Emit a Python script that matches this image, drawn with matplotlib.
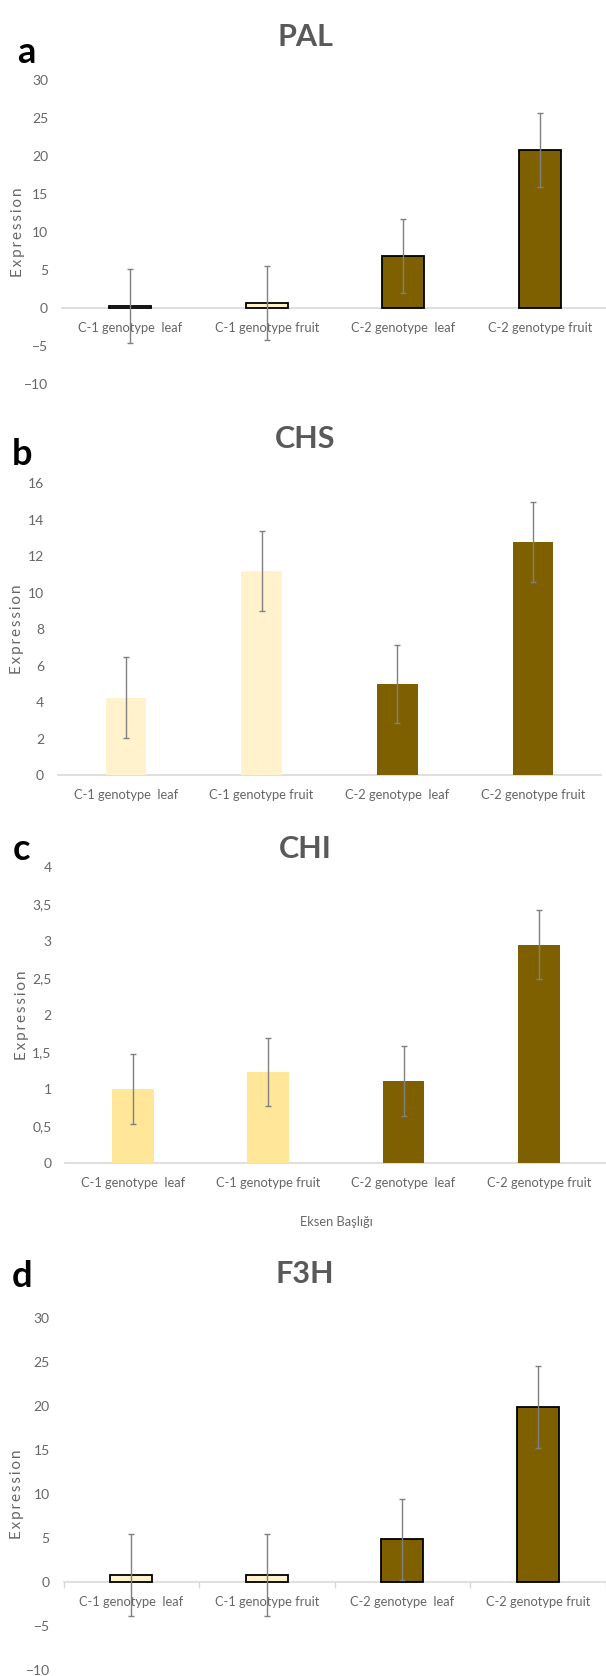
"""
Gene expression bar charts (PAL, CHS, CHI, F3H) in four stacked panels.
"""
import matplotlib
matplotlib.use("Agg")
import matplotlib.pyplot as plt
from matplotlib.ticker import FuncFormatter, FixedLocator

plt.rcParams['font.family'] = ['Lato', 'DejaVu Sans']

categories = ['C-1 genotype  leaf', 'C-1 genotype fruit',
              'C-2 genotype  leaf', 'C-2 genotype fruit']

pal_values = [0.3, 0.7, 6.9, 20.8]
pal_err = [4.9, 4.9, 4.9, 4.8]

chs_values = [4.25, 11.2, 5.0, 12.8]
chs_err = [2.2, 2.2, 2.15, 2.2]

chi_values = [1.0, 1.23, 1.11, 2.95]
chi_err = [0.47, 0.46, 0.47, 0.46]

f3h_values = [0.85, 0.85, 4.9, 19.9]
f3h_err = [4.65, 4.65, 4.6, 4.65]

BROWN = '#7F6000'
CREAM = '#FFF2CC'
YELLOW = '#FFE699'
TEXT_GRAY = '#666666'

W, H = 606, 1676

# Excel spreads the axis title letters out a little
YLABEL = '\u2009'.join('Expression')


def px_axes(fig, left, top, right, bottom):
    """Add axes using pixel coordinates measured from the top-left."""
    return fig.add_axes([left / W, 1 - bottom / H, (right - left) / W, (bottom - top) / H])


def plot_panel(ax, values, errors, colors, edge, ylim, yticks, width=0.31,
               comma=False, xtitle=None, boundary_ticks=False):
    """Draw one Excel-style bar chart with error bars."""
    x = range(len(values))
    ax.bar(x, values, width=width, color=colors,
           edgecolor='black' if edge else 'none', linewidth=1.3 if edge else 0, zorder=2)
    ax.errorbar(x, values, yerr=errors, fmt='none', ecolor='#808080',
                elinewidth=1, capsize=2.2, capthick=1, zorder=3)

    ax.set_xlim(-0.5, 3.5)
    ax.set_ylim(*ylim)
    ax.set_yticks(yticks)
    if comma:
        ax.yaxis.set_major_formatter(FuncFormatter(lambda v, p: f'{v:g}'.replace('.', ',')))
    ax.set_xticks(list(x))
    ax.set_xticklabels(categories)

    for side in ['top', 'right', 'left']:
        ax.spines[side].set_visible(False)
    ax.spines['bottom'].set_position(('data', 0))
    ax.spines['bottom'].set_color('#d9d9d9')
    ax.spines['bottom'].set_linewidth(1.2)
    ax.spines['bottom'].set_zorder(1)

    ax.tick_params(axis='x', length=0, pad=10, labelsize=9.3, labelcolor=TEXT_GRAY)
    ax.tick_params(axis='y', length=0, pad=10, labelsize=10, labelcolor=TEXT_GRAY)
    if boundary_ticks:
        ax.xaxis.set_minor_locator(FixedLocator([-0.5, 0.5, 1.5, 2.5, 3.5]))
        ax.tick_params(axis='x', which='minor', length=4, width=1, color='#d9d9d9', direction='out')

    ax.set_ylabel(YLABEL, fontsize=11, color=TEXT_GRAY)
    if xtitle:
        ax.set_xlabel(xtitle, fontsize=9.3, color=TEXT_GRAY, labelpad=19)


fig = plt.figure(figsize=(W / 100, H / 100), dpi=100)

# panel a - PAL
ax_a = px_axes(fig, 62, 80, 608, 384.4)
plot_panel(ax_a, pal_values, pal_err, [CREAM, CREAM, BROWN, BROWN], True,
           (-10, 30), range(-10, 31, 5))
ax_a.yaxis.set_label_coords((25 - 62) / 546, 0.5)

# panel b - CHS
ax_b = px_axes(fig, 58, 483.3, 601, 775)
plot_panel(ax_b, chs_values, chs_err, [CREAM, CREAM, BROWN, BROWN], False,
           (0, 16), range(0, 17, 2), width=0.30)
ax_b.yaxis.set_label_coords((24 - 58) / 543, 0.5)

# panel c - CHI
ax_c = px_axes(fig, 65.4, 866.7, 606.4, 1163.3)
plot_panel(ax_c, chi_values, chi_err, [YELLOW, YELLOW, BROWN, BROWN], False,
           (0, 4), [i * 0.5 for i in range(9)], comma=True, xtitle='Eksen Başlığı')
ax_c.yaxis.set_label_coords((29 - 65.4) / 541, 0.5)

# panel d - F3H
ax_d = px_axes(fig, 63.7, 1318.3, 605.7, 1670.3)
plot_panel(ax_d, f3h_values, f3h_err, [CREAM, CREAM, BROWN, BROWN], True,
           (-10, 30), range(-10, 31, 5), boundary_ticks=True)
ax_d.yaxis.set_label_coords((24 - 63.7) / 542, 0.5)

# titles and panel letters (positions are text baselines in pixels)
titles = [('PAL', 46.5), ('CHS', 448), ('CHI', 858), ('F3H', 1283)]
for name, ypx in titles:
    fig.text(305 / W, 1 - ypx / H, name, ha='center', va='baseline',
             fontsize=22, fontweight='bold', color='#595959')

letters = [('a', 26, 63), ('b', 22, 465), ('c', 21, 860), ('d', 22, 1287)]
for letter, xpx, ypx in letters:
    fig.text(xpx / W, 1 - ypx / H, letter, ha='center', va='baseline',
             fontsize=26, fontweight='bold', color='black')

fig.savefig('out.png', dpi=100)
